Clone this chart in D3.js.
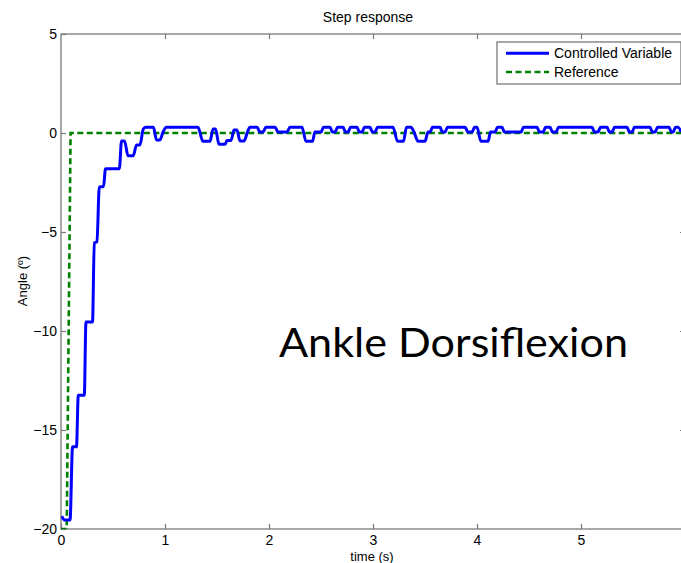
<!DOCTYPE html>
<html><head><meta charset="utf-8">
<script src="https://cdn.jsdelivr.net/npm/d3@7"></script>
<style>
html,body{margin:0;padding:0;background:#fff;}
svg{display:block;}
text{font-family:"Liberation Sans",Arial,sans-serif;fill:#000;}
</style></head>
<body>
<svg id="chart" width="681" height="563"></svg>
<script>
// ---- data ----
const xTicks = [0, 1, 2, 3, 4, 5];
const yTicks = [-20, -15, -10, -5, 0, 5];
const seriesNames = ["Controlled Variable", "Reference"];
const cvTime = [0.007,0.038,0.087,0.111,0.149,0.166,0.224,0.240,0.303,0.320,0.346,0.368,0.409,0.428,0.561,0.582,0.611,0.644,0.695,0.726,0.760,0.791,0.817,0.889,0.918,0.952,0.981,1.014,1.317,1.365,1.433,1.462,1.486,1.519,1.577,1.596,1.635,1.663,1.692,1.721,1.760,1.793,1.817,1.885,1.913,1.942,1.971,2.058,2.087,2.173,2.202,2.317,2.356,2.418,2.442,2.500,2.524,2.587,2.611,2.635,2.659,2.712,2.736,2.760,2.784,2.846,2.870,2.894,2.918,2.971,2.995,3.019,3.043,3.192,3.236,3.293,3.322,3.365,3.394,3.433,3.500,3.529,3.548,3.572,3.644,3.668,3.692,3.716,3.885,3.913,3.952,3.976,4.000,4.038,4.106,4.130,4.173,4.197,4.240,4.264,4.423,4.447,4.577,4.601,4.635,4.659,4.702,4.726,4.760,4.784,5.106,5.130,5.163,5.188,5.250,5.274,5.298,5.322,5.442,5.466,5.490,5.514,5.663,5.687,5.712,5.736,5.846,5.870,5.885,5.909,5.933,5.962];
const cvAngle = [-19.35,-19.55,-19.55,-15.85,-15.85,-13.25,-13.25,-9.55,-9.55,-5.55,-5.5,-2.72,-2.7,-1.8,-1.8,-0.4,-0.4,-1.15,-1.15,-0.6,-0.6,0.2,0.29,0.29,-0.35,-0.35,0.05,0.29,0.29,-0.42,-0.42,0.2,0.2,-0.57,-0.57,-0.38,-0.38,0.15,0.15,-0.4,-0.4,0.05,0.29,0.29,0.05,0.05,0.29,0.29,0.05,0.05,0.29,0.29,-0.42,-0.42,0.05,0.05,0.29,0.29,0.05,0.05,0.29,0.29,0.05,0.05,0.29,0.29,0.05,0.05,0.29,0.29,0.05,0.05,0.29,0.29,-0.42,-0.42,0.29,0.29,0.05,-0.42,-0.42,0.05,0.05,0.29,0.29,0.05,0.05,0.29,0.29,0.05,0.05,0.29,0.29,-0.42,-0.42,0.05,0.05,0.29,0.29,0.05,0.05,0.29,0.29,0.05,0.05,0.29,0.29,0.05,0.05,0.29,0.29,0.05,0.05,0.29,0.29,0.05,0.05,0.29,0.29,0.05,0.05,0.29,0.29,0.05,0.05,0.29,0.29,0.05,0.05,0.29,0.29,0.05];
const refTime = [0, 0.055, 0.092, 6];
const refAngle = [-20, -20, 0, 0];

// ---- layout ----
const svg = d3.select("#chart");
const L = 61, R = 685, T = 34, B = 529;
const x = d3.scaleLinear().domain([0, 6]).range([L, R]);
const y = d3.scaleLinear().domain([-20, 5]).range([B, T]);
const axisColor = "#7a7a7a";

svg.append("clipPath").attr("id","pc").append("rect")
  .attr("x", L).attr("y", T).attr("width", R-L).attr("height", B-T);

svg.append("rect").attr("x", L).attr("y", T).attr("width", R-L).attr("height", B-T)
  .attr("fill","none").attr("stroke",axisColor).attr("stroke-width",1.3);

function styleAxis(g){
  g.select(".domain").remove();
  g.selectAll(".tick line").attr("stroke",axisColor).attr("stroke-width",1.2);
  g.selectAll(".tick text").style("font-size","14px").attr("fill","#000");
}
svg.append("g").attr("transform",`translate(0,${B})`)
  .call(d3.axisBottom(x).tickValues(xTicks).tickFormat(d3.format("d")).tickSize(-5).tickPadding(6.5))
  .call(styleAxis);
svg.append("g").attr("transform",`translate(0,${T})`)
  .call(d3.axisTop(x).tickValues(xTicks.filter(d=>d>0)).tickFormat("").tickSize(-5))
  .call(styleAxis);
svg.append("g").attr("transform",`translate(${L},0)`)
  .call(d3.axisLeft(y).tickValues(yTicks).tickFormat(d3.format("d")).tickSize(-5).tickPadding(4))
  .call(styleAxis);
svg.append("g").attr("transform",`translate(${R},0)`)
  .call(d3.axisRight(y).tickValues(yTicks.filter(d=>d>-20 && d<5)).tickFormat("").tickSize(-5))
  .call(styleAxis);

const line = d3.line().x(d=>x(d[0])).y(d=>y(d[1])).curve(d3.curveMonotoneX);
const lineLin = d3.line().x(d=>x(d[0])).y(d=>y(d[1]));
const cvData = cvTime.map((t,i)=>[t, cvAngle[i]]);
const refData = refTime.map((t,i)=>[t, refAngle[i]]);

const plot = svg.append("g").attr("clip-path","url(#pc)");
plot.append("path").attr("d", lineLin(refData)).attr("fill","none")
  .attr("stroke","#008000").attr("stroke-width",2.6).attr("stroke-dasharray","6,3.5");
plot.append("path").attr("d", line(cvData)).attr("fill","none")
  .attr("stroke","#0000ff").attr("stroke-width",3).attr("stroke-linejoin","round");

const lg = svg.append("g");
lg.append("rect").attr("x",497).attr("y",42).attr("width",184).attr("height",42)
  .attr("fill","#fff").attr("stroke","#6e6e6e").attr("stroke-width",1.2);
lg.append("line").attr("x1",506).attr("x2",549).attr("y1",53.3).attr("y2",53.3)
  .attr("stroke","#0000ff").attr("stroke-width",3);
lg.append("line").attr("x1",506).attr("x2",549).attr("y1",72).attr("y2",72)
  .attr("stroke","#008000").attr("stroke-width",2.6).attr("stroke-dasharray","6,3.5");
lg.append("text").attr("x",554).attr("y",58.3).style("font-size","14px").text(seriesNames[0]);
lg.append("text").attr("x",554).attr("y",77).style("font-size","14px").text(seriesNames[1]);

svg.append("text").attr("x",368).attr("y",22).attr("text-anchor","middle")
  .style("font-size","14px").text("Step response");
svg.append("text").attr("x",372).attr("y",561).attr("text-anchor","middle")
  .style("font-size","13px").text("time (s)");
svg.append("text").attr("transform","translate(27,281) rotate(-90)").attr("text-anchor","middle")
  .style("font-size","13px").text("Angle (º)");

svg.append("text").attr("x",279).attr("y",357).attr("textLength",349).attr("lengthAdjust","spacingAndGlyphs")
  .style("font-family","Lato, 'Open Sans', sans-serif").style("font-size","40px").attr("fill","#1a1a1a")
  .text("Ankle Dorsiflexion");
</script>
</body></html>
